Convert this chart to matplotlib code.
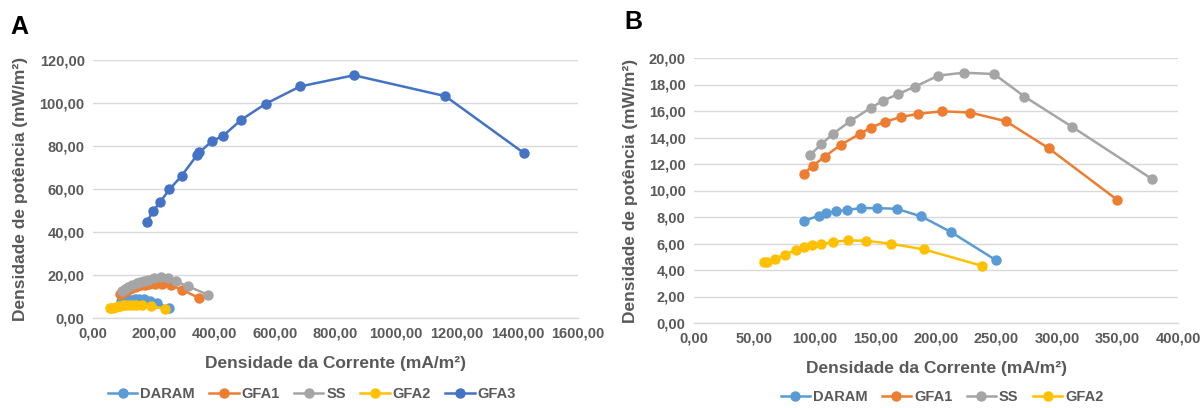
import matplotlib
matplotlib.use("Agg")
import matplotlib.pyplot as plt
from matplotlib.ticker import FuncFormatter, MultipleLocator

# Current density (mA/m²) and power density (mW/m²) for each cell
daram_x = [90.9, 103.0, 109.4, 117.3, 126.5, 138.0, 151.0, 167.5, 187.9, 212.1, 249.9]
daram_y = [7.71, 8.09, 8.29, 8.42, 8.54, 8.67, 8.67, 8.62, 8.04, 6.88, 4.72]

gfa1_x = [90.6, 98.2, 108.1, 121.1, 137.0, 146.2, 157.7, 171.0, 185.0, 205.1, 228.3, 257.8, 293.4, 349.7]
gfa1_y = [11.28, 11.86, 12.56, 13.44, 14.27, 14.75, 15.18, 15.55, 15.78, 15.98, 15.88, 15.23, 13.17, 9.30]

ss_x = [95.7, 105.2, 115.1, 129.1, 145.9, 156.4, 168.2, 182.8, 201.9, 222.9, 248.0, 273.1, 312.2, 378.3]
ss_y = [12.66, 13.49, 14.30, 15.23, 16.23, 16.78, 17.26, 17.84, 18.67, 18.89, 18.79, 17.09, 14.82, 10.88]

gfa2_x = [57.5, 60.4, 66.8, 75.0, 84.6, 90.6, 97.6, 104.9, 115.1, 127.5, 142.4, 162.5, 190.4, 237.8]
gfa2_y = [4.62, 4.62, 4.85, 5.15, 5.53, 5.70, 5.88, 5.93, 6.13, 6.23, 6.21, 5.98, 5.55, 4.32]

gfa3_x = [177.4, 199.0, 220.5, 252.2, 292.8, 342.2, 351.1, 391.6, 429.7, 489.2, 569.1, 683.1, 860.6, 1162.2, 1420.8]
gfa3_y = [44.7, 49.8, 53.8, 59.8, 66.2, 75.6, 77.0, 82.2, 84.8, 92.2, 99.6, 107.7, 112.9, 103.2, 76.8]

series_names = ["DARAM", "GFA1", "SS", "GFA2", "GFA3"]
series_colors = ["#5B9BD5", "#ED7D31", "#A5A5A5", "#FFC000", "#4472C4"]

xlabel = "Densidade da Corrente (mA/m\u00b2)"
ylabel = "Densidade de pot\u00eancia (mW/m\u00b2)"

text_gray = "#595959"
grid_gray = "#D9D9D9"

plt.rcParams["font.family"] = ["Liberation Sans", "DejaVu Sans"]

W, H = 1201, 408
fig = plt.figure(figsize=(W / 100, H / 100), dpi=100)
ax_a = fig.add_axes([93 / W, 1 - 318 / H, 485 / W, 258 / H])
ax_b = fig.add_axes([694 / W, 1 - 323 / H, 484 / W, 265 / H])

comma = FuncFormatter(lambda v, _: f"{v:.2f}".replace(".", ","))


def style(ax, xmax, xstep, ymax, ystep):
    ax.set_xlim(0, xmax)
    ax.set_ylim(0, ymax)
    ax.xaxis.set_major_locator(MultipleLocator(xstep))
    ax.yaxis.set_major_locator(MultipleLocator(ystep))
    ax.xaxis.set_major_formatter(comma)
    ax.yaxis.set_major_formatter(comma)
    ax.grid(axis="y", color=grid_gray, linewidth=1.0)
    ax.set_axisbelow(True)
    for side in ["top", "right", "left"]:
        ax.spines[side].set_visible(False)
    ax.spines["bottom"].set_color(grid_gray)
    ax.spines["bottom"].set_linewidth(1.0)
    ax.tick_params(length=0, labelsize=10.5, colors=text_gray, pad=6)
    for lab in ax.get_xticklabels() + ax.get_yticklabels():
        lab.set_fontweight("bold")
    ax.set_xlabel(xlabel, fontsize=12.5, fontweight="bold", color=text_gray, labelpad=11)
    ax.set_ylabel(ylabel, fontsize=12.5, fontweight="bold", color=text_gray, labelpad=8)


def draw(ax, data):
    for (xs, ys), name, color in data:
        ax.plot(xs, ys, color=color, linewidth=1.8, marker="o", markersize=6.5,
                label=name, clip_on=False)


pairs = [(daram_x, daram_y), (gfa1_x, gfa1_y), (ss_x, ss_y), (gfa2_x, gfa2_y), (gfa3_x, gfa3_y)]

draw(ax_a, list(zip(pairs, series_names, series_colors)))
style(ax_a, 1600, 200, 120, 20)

draw(ax_b, list(zip(pairs[:4], series_names[:4], series_colors[:4])))
style(ax_b, 400, 50, 20, 2)

for ax, ncol, cx, cy in [(ax_a, 5, 312, 394), (ax_b, 4, 942, 397)]:
    leg = ax.legend(loc="center", bbox_to_anchor=(cx / W, 1 - cy / H),
                    bbox_transform=fig.transFigure, ncol=ncol, frameon=False,
                    fontsize=10.5, handlelength=2.0, handletextpad=0.2, columnspacing=1.0,
                    borderpad=0.1)
    for t in leg.get_texts():
        t.set_color(text_gray)
        t.set_fontweight("bold")

fig.text(10 / W, 1 - 27 / H, "A", fontsize=18, fontweight="bold", va="center", ha="left")
fig.text(624 / W, 1 - 22 / H, "B", fontsize=18, fontweight="bold", va="center", ha="left")

fig.savefig("out.png", dpi=100, facecolor="white")
